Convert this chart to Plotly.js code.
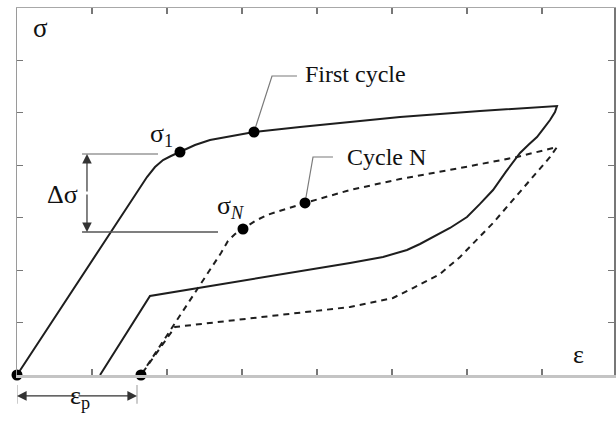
<!DOCTYPE html>
<html>
<head>
<meta charset="utf-8">
<script src="https://cdn.plot.ly/plotly-3.0.1.min.js"></script>
<style>html,body{margin:0;padding:0;background:#fff;}#chart{width:616px;height:421px;}</style>
</head>
<body>
<div id="chart"></div>
<script>
// First cycle (solid): loading then unloading
const firstX = [0, 1.733, 1.84, 1.947, 2.053, 2.173, 2.373, 2.573, 2.84, 3.16, 3.773, 4.44, 5.107, 6.173, 7.2,
                7.173, 7.107, 7.02, 6.933, 6.82, 6.707, 6.52, 6.347, 6.17, 6.0, 5.773, 5.547, 5.373, 5.2, 4.88, 4.44, 1.773, 1.107];
const firstY = [0, 3.776, 3.967, 4.101, 4.177, 4.253, 4.387, 4.482, 4.558, 4.635, 4.730, 4.825, 4.921, 5.035, 5.131,
                5.016, 4.864, 4.70, 4.539, 4.39, 4.234, 3.88, 3.528, 3.26, 3.014, 2.804, 2.632, 2.499, 2.384, 2.251, 2.136, 1.507, 0];
// Cycle N (dashed): loading then unloading
const cycNX = [1.653, 2.72, 2.813, 2.907, 3.013, 3.173, 3.333, 3.573, 3.84, 4.44, 5.107, 5.907, 6.667, 7.2,
               7.107, 6.347, 5.907, 5.64, 5.467, 5.28, 5.013, 4.707, 4.44, 2.107, 1.653];
const cycNY = [0, 2.327, 2.556, 2.689, 2.785, 2.937, 3.052, 3.166, 3.281, 3.528, 3.738, 3.948, 4.158, 4.349,
               4.158, 2.899, 2.251, 1.926, 1.793, 1.659, 1.469, 1.373, 1.297, 0.916, 0];
// Marked points
const dotX = [0, 1.653, 2.173, 3.16, 3.013, 3.84];
const dotY = [0, 0, 4.253, 4.635, 2.785, 3.281];
// Leader lines
const leadFirstX = [3.16, 3.4, 3.733];
const leadFirstY = [4.635, 5.703, 5.703];
const leadNX = [3.84, 3.947, 4.213];
const leadNY = [3.281, 4.158, 4.158];
// Delta sigma reference levels
const sigma1Level = 4.215, sigmaNLevel = 2.727;
const epsP = [0, 1.6];

const serif = 'Liberation Serif, Times New Roman, serif';
const ink = '#1e1e1e';
const grayLine = '#7a7a7a';

const traces = [
  {x: firstX, y: firstY, mode: 'lines', line: {color: ink, width: 2}, hoverinfo: 'skip'},
  {x: cycNX, y: cycNY, mode: 'lines', line: {color: ink, width: 2, dash: '6px,5px'}, hoverinfo: 'skip'},
  {x: leadFirstX, y: leadFirstY, mode: 'lines', line: {color: grayLine, width: 1.2}, hoverinfo: 'skip'},
  {x: leadNX, y: leadNY, mode: 'lines', line: {color: grayLine, width: 1.2}, hoverinfo: 'skip'},
  {x: [0.867, 1.88], y: [sigma1Level, sigma1Level], mode: 'lines', line: {color: '#999', width: 1.5}, hoverinfo: 'skip'},
  {x: [0.867, 2.68], y: [sigmaNLevel, sigmaNLevel], mode: 'lines', line: {color: '#555', width: 1.5}, hoverinfo: 'skip'},
  {x: dotX, y: dotY, mode: 'markers', marker: {color: '#000', size: 11}, cliponaxis: false, hoverinfo: 'skip'},
  {x: [], y: [], xaxis: 'x2', yaxis: 'y2', hoverinfo: 'skip'}
];

const axCommon = {showgrid: false, zeroline: false, showticklabels: false, ticks: 'inside', ticklen: 6,
                  tickcolor: '#777', tickwidth: 1.2, dtick: 1, tick0: 0, showline: true, fixedrange: true};

const midDS = (sigma1Level + sigmaNLevel) / 2;
const midEP = (epsP[0] + epsP[1]) / 2;
const arrowCommon = {showarrow: true, arrowhead: 2, arrowsize: 1.6, arrowwidth: 1.2, arrowcolor: '#333', text: ''};
const txt = (s) => ({family: serif, size: s, color: '#111'});

const layout = {
  width: 616, height: 421,
  margin: {l: 17, r: 2, t: 8, b: 46},
  paper_bgcolor: '#fff', plot_bgcolor: '#fff',
  showlegend: false,
  xaxis: Object.assign({}, axCommon, {range: [0, 7.96], linecolor: '#c4c4c4', linewidth: 3}),
  yaxis: Object.assign({}, axCommon, {range: [0, 7.0], linecolor: '#9a9a9a', linewidth: 1.5}),
  xaxis2: Object.assign({}, axCommon, {range: [0, 7.96], overlaying: 'x', side: 'top', anchor: 'y2', linecolor: '#a8a8a8', linewidth: 1.5}),
  yaxis2: Object.assign({}, axCommon, {range: [0, 7.0], overlaying: 'y', side: 'right', anchor: 'x2', linecolor: '#777', linewidth: 2.5}),
  shapes: [
    {type: 'line', xref: 'x', yref: 'paper', x0: epsP[0], x1: epsP[0], y0: -0.027, y1: -0.078, line: {color: '#aaa', width: 1.2}},
    {type: 'line', xref: 'x', yref: 'paper', x0: epsP[1], x1: epsP[1], y0: -0.027, y1: -0.078, line: {color: '#aaa', width: 1.2}}
  ],
  annotations: [
    Object.assign({}, arrowCommon, {xref: 'x', yref: 'y', x: 0.933, y: sigma1Level, axref: 'x', ayref: 'y', ax: 0.933, ay: midDS}),
    Object.assign({}, arrowCommon, {xref: 'x', yref: 'y', x: 0.933, y: sigmaNLevel, axref: 'x', ayref: 'y', ax: 0.933, ay: midDS}),
    Object.assign({}, arrowCommon, {xref: 'x', yref: 'paper', x: epsP[0], y: -0.057, axref: 'x', ax: midEP, ay: 0}),
    Object.assign({}, arrowCommon, {xref: 'x', yref: 'paper', x: epsP[1], y: -0.057, axref: 'x', ax: midEP, ay: 0}),
    {xref: 'x', yref: 'y', x: 0.307, y: 6.62, text: 'σ', showarrow: false, font: txt(27)},
    {xref: 'x', yref: 'y', x: 7.48, y: 0.4, text: 'ε', showarrow: false, font: txt(26)},
    {xref: 'x', yref: 'y', x: 1.93, y: 4.58, text: 'σ<sub>1</sub>', showarrow: false, font: txt(26)},
    {xref: 'x', yref: 'y', x: 2.84, y: 3.2, text: 'σ<sub><i>N</i></sub>', showarrow: false, font: txt(26)},
    {xref: 'x', yref: 'y', x: 0.6, y: 3.44, text: 'Δσ', showarrow: false, font: txt(26)},
    {xref: 'x', yref: 'y', x: 3.81, y: 5.74, xanchor: 'left', text: 'First cycle', showarrow: false, font: txt(24)},
    {xref: 'x', yref: 'y', x: 4.373, y: 4.15, xanchor: 'left', text: 'Cycle N', showarrow: false, font: txt(24)},
    {xref: 'x', yref: 'paper', x: 0.84, y: -0.108, text: 'ε<sub>p</sub>', showarrow: false, font: txt(26)}
  ]
};

Plotly.newPlot('chart', traces, layout, {staticPlot: true, displayModeBar: false});
</script>
</body>
</html>
